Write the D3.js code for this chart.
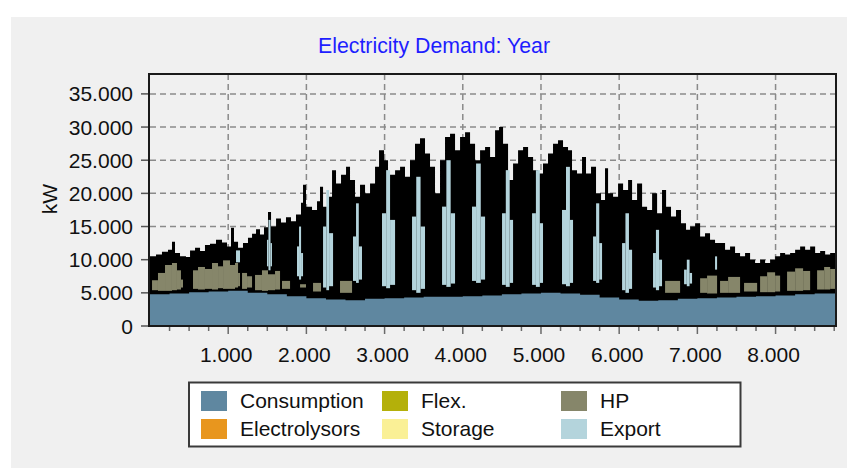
<!DOCTYPE html>
<html><head><meta charset="utf-8">
<script src="https://cdn.jsdelivr.net/npm/d3@7"></script>
<style>
html,body{margin:0;padding:0;background:#fff;}
svg{display:block;}
text{font-family:"Liberation Sans",Arial,sans-serif;}
</style></head><body>
<svg id="chart" width="847" height="468"></svg>
<script>
// ---------- DATA ----------
const chartTitle = "Electricity Demand: Year";
const yAxisLabel = "kW";
const xTickValues = [1000,2000,3000,4000,5000,6000,7000,8000];
const xMinorTicks = d3.range(250, 8760, 250);
const yTickValues = [0,5000,10000,15000,20000,25000,30000,35000];

const seriesNames  = ["Consumption","Electrolysors","Flex.","Storage","HP","Export"];
const seriesColors = ["#5f87a0","#e8961e","#b4b00a","#faf096","#86866a","#b4d4dc"];

// consumption (hour, kW)
const consHours  = [0,250,500,750,1000,1250,1500,1750,2000,2250,2500,2750,3000,3250,3500,3750,4000,4250,4500,4750,5000,5250,5500,5750,6000,6250,6500,6750,7000,7250,7500,7750,8000,8250,8500,8760];
const consValues = [4800,4900,5100,5200,5300,5000,4800,4500,4200,4000,3900,4100,4200,4300,4400,4400,4500,4600,4800,4900,5000,4900,4700,4300,4000,3800,3900,4100,4200,4300,4400,4500,4600,4800,4900,5000];

// upper envelope of the total load (hour, kW)
const topHours = [0,77,153,230,281,320,384,460,512,576,640,703,767,844,921,985,1036,1074,1126,1189,1253,1305,1356,1407,1458,1509,1548,1612,1675,1739,1803,1867,1931,1957,1995,2072,2136,2174,2213,2277,2328,2379,2443,2507,2558,2622,2686,2750,2814,2878,2929,2993,3044,3134,3198,3261,3325,3389,3453,3517,3581,3645,3709,3773,3837,3901,3965,4029,4093,4157,4221,4285,4349,4413,4464,4515,4579,4643,4707,4771,4835,4899,4963,5026,5090,5154,5218,5282,5346,5397,5461,5525,5576,5640,5704,5768,5819,5858,5922,5986,6050,6114,6165,6229,6293,6357,6421,6485,6548,6600,6663,6727,6791,6855,6907,6971,7035,7098,7162,7226,7290,7354,7418,7482,7546,7610,7674,7738,7802,7866,7930,7994,8058,8122,8186,8250,8314,8378,8442,8506,8570,8634,8698,8760];
const topValues = [10500,10800,11200,11500,12700,11000,10500,10400,11400,11800,11300,12200,12400,13000,12600,12000,14800,12700,11800,12500,13300,13900,14600,13800,14900,17200,15000,16200,15600,16400,15800,16800,18600,21300,18000,17500,18800,21000,18000,19500,23500,21500,22800,24000,22000,19500,21300,20000,21500,24000,26500,25000,22800,23500,24000,22500,25000,27500,28300,26000,24000,20000,25000,28500,29000,26500,28500,29200,27500,25000,26500,27000,25500,29500,30000,27500,22000,24500,26500,27000,25500,23500,23000,24500,26000,27500,28000,27000,26500,23500,23000,25500,23000,24000,20000,19000,23800,20000,19500,21500,20500,22000,19000,21500,18000,17500,20000,17000,20500,18000,16500,17500,15500,14500,15000,15500,13500,14000,13000,12500,12500,11500,12000,11000,10500,11000,10000,9500,10000,9500,10000,10500,11000,10800,11000,11500,12000,11500,12000,11000,11300,10800,11000,10500];

// heat pump blocks (start hour, end hour, low kW, high kW)
const hpStart = [26,102,192,281,345,396,550,614,703,793,870,934,1023,1087,1126,1177,1241,1343,1432,1509,1599,1688,1919,2085,2430,6587,7035,7124,7290,7393,7597,7802,7892,7994,8147,8250,8352,8531,8621,8698];
const hpEnd   = [102,192,281,345,396,422,614,703,793,870,934,1023,1087,1126,1151,1241,1305,1432,1509,1599,1663,1791,1995,2187,2584,6779,7124,7252,7393,7546,7764,7892,7994,8058,8250,8352,8442,8621,8698,8760];
const hpLow   = [5400,5300,5300,5400,5500,5800,5600,5500,5600,5500,5700,5600,5600,5800,6000,5600,5800,5400,5300,5400,5500,5600,5800,5200,5000,5000,5000,4900,5000,5000,5200,5100,5100,5200,5300,5300,5400,5500,5500,5600];
const hpHigh  = [6900,8000,9200,9500,8400,7000,8400,8900,8600,9500,9000,9900,9200,9500,8000,8000,7500,7700,8400,7800,8300,6800,6300,6500,6800,6800,7200,7600,6800,7400,6500,7500,8100,7600,8200,8700,8300,8400,8900,8600];

// export blocks (start hour, end hour, low kW, high kW)
const expStart = [1100,1496,1515,1541,1880,1906,1932,2213,2255,2290,2596,2635,2670,2967,3020,3070,3351,3405,3460,3735,3790,3845,4118,4170,4230,4502,4550,4600,4886,4935,4985,5269,5320,5370,5666,5705,5745,6037,6080,6125,6433,6470,6510,6830,6865,6900,7226];
const expEnd   = [1151,1515,1541,1560,1906,1932,1957,2255,2290,2341,2635,2670,2711,3020,3070,3134,3405,3460,3517,3790,3845,3901,4170,4230,4285,4550,4600,4643,4935,4985,5026,5320,5370,5410,5705,5745,5781,6080,6125,6165,6470,6510,6548,6865,6900,6932,7252];
const expLow   = [9600,9000,8400,9000,7500,7000,7500,5800,5400,6000,6800,6500,7000,6000,5700,6200,5400,5000,5600,6200,5900,6400,6800,6500,7000,6200,5900,6500,6200,5900,6500,6300,6000,6500,6800,6500,7000,5400,5000,5600,5800,5400,6000,6300,6000,6400,8500];
const expHigh  = [11400,13000,16000,12500,12000,15000,11000,15000,20500,14000,13500,18500,12000,17000,23500,16000,16500,22500,15000,18000,25000,17000,18000,24500,16500,17000,23500,16000,17000,23500,15500,17500,24000,16000,13500,18500,12500,12500,17000,11500,11000,14500,10000,8500,10000,8000,10500];

// ---------- LAYOUT ----------
const svg = d3.select("#chart");
const W = 847, H = 468;
const plot = {left:150, right:835, top:74, bottom:326};

svg.append("rect").attr("x",0).attr("y",0).attr("width",W).attr("height",H).attr("fill","#ffffff");
svg.append("rect").attr("x",11).attr("y",17).attr("width",W-11).attr("height",H-17).attr("fill","#f0f0f0");

const x = d3.scaleLinear().domain([0,8760]).range([plot.left, plot.right]);
const y = d3.scaleLinear().domain([0,38000]).range([plot.bottom, plot.top]);

const fmtLocale = d3.formatLocale({decimal:",", thousands:".", grouping:[3], currency:["",""]});
const fmt = fmtLocale.format(",");

// title
svg.append("text").attr("x",434).attr("y",53).attr("text-anchor","middle")
  .attr("fill","#1e1eff").attr("font-size","21.3px").text(chartTitle);

// grid
const grid = svg.append("g").attr("stroke","#8a8a8a").attr("stroke-width",1.5).attr("stroke-dasharray","6,4");
grid.selectAll("line.v").data(xTickValues).join("line")
  .attr("x1",d=>x(d)).attr("x2",d=>x(d)).attr("y1",plot.top).attr("y2",plot.bottom);
grid.selectAll("line.h").data(yTickValues.filter(d=>d>0)).join("line")
  .attr("x1",plot.left).attr("x2",plot.right).attr("y1",d=>y(d)).attr("y2",d=>y(d));

// clip
svg.append("clipPath").attr("id","clip").append("rect")
  .attr("x",plot.left).attr("y",plot.top).attr("width",plot.right-plot.left).attr("height",plot.bottom-plot.top);
const data = svg.append("g").attr("clip-path","url(#clip)");

// total load envelope (black)
const topData = topHours.map((h,i)=>({h, v:topValues[i]}));
data.append("path").datum(topData)
  .attr("fill","#000")
  .attr("d", d3.area().curve(d3.curveStepAfter).x(d=>x(d.h)).y0(y(0)).y1(d=>y(d.v)));

// consumption
const consData = consHours.map((h,i)=>({h, v:consValues[i]}));
data.append("path").datum(consData)
  .attr("fill",seriesColors[0])
  .attr("d", d3.area().curve(d3.curveStepAfter).x(d=>x(d.h)).y0(y(0)).y1(d=>y(d.v)));

// HP
const hpData = hpStart.map((s,i)=>({s, e:hpEnd[i], lo:hpLow[i], hi:hpHigh[i]}));
data.selectAll("rect.hp").data(hpData).join("rect").attr("class","hp")
  .attr("x",d=>x(d.s)).attr("width",d=>x(d.e)-x(d.s))
  .attr("y",d=>y(d.hi)).attr("height",d=>y(d.lo)-y(d.hi))
  .attr("fill",seriesColors[4]);

// Export
const expData = expStart.map((s,i)=>({s, e:expEnd[i], lo:expLow[i], hi:expHigh[i]}));
data.selectAll("rect.exp").data(expData).join("rect").attr("class","exp")
  .attr("x",d=>x(d.s)).attr("width",d=>x(d.e)-x(d.s))
  .attr("y",d=>y(d.hi)).attr("height",d=>y(d.lo)-y(d.hi))
  .attr("fill",seriesColors[5]);

// frame
svg.append("rect").attr("x",plot.left-1).attr("y",plot.top).attr("width",plot.right-plot.left+2).attr("height",plot.bottom-plot.top)
  .attr("fill","none").attr("stroke","#1a1a1a").attr("stroke-width",2);

// x ticks
const xt = svg.append("g").attr("stroke","#6a6a6a").attr("stroke-width",1.5);
xt.selectAll("line.minor").data(xMinorTicks).join("line")
  .attr("x1",d=>x(d)).attr("x2",d=>x(d)).attr("y1",plot.bottom+1).attr("y2",d=> d%1000===0 ? plot.bottom+8 : plot.bottom+5);
svg.append("g").selectAll("text").data(xTickValues).join("text")
  .attr("x",d=>x(d)-2).attr("y",361.5).attr("text-anchor","middle")
  .attr("font-size","21px").attr("fill","#111").text(d=>fmt(d));

// y ticks
const yt = svg.append("g").attr("stroke","#555").attr("stroke-width",1.5);
yt.selectAll("line").data(yTickValues).join("line")
  .attr("x1",141).attr("x2",plot.left-2).attr("y1",d=>y(d)).attr("y2",d=>y(d));
svg.append("g").selectAll("text").data(yTickValues).join("text")
  .attr("x",133).attr("y",d=>y(d)+7.5).attr("text-anchor","end")
  .attr("font-size","21px").attr("fill","#111").text(d=>fmt(d));

svg.append("text").attr("transform","translate(57,199) rotate(-90)").attr("text-anchor","middle")
  .attr("font-size","21px").attr("fill","#111").text(yAxisLabel);

// legend
const lg = svg.append("g");
lg.append("rect").attr("x",189).attr("y",382.5).attr("width",551.5).attr("height",64)
  .attr("fill","#fff").attr("stroke","#3a3a3a").attr("stroke-width",2);
const colX = [201,382,561];
const rowY = [391,419];
seriesNames.forEach((name,i)=>{
  const c = Math.floor(i/2), r = i%2;
  lg.append("rect").attr("x",colX[c]).attr("y",rowY[r]).attr("width",26).attr("height",20).attr("fill",seriesColors[i]);
  lg.append("text").attr("x",colX[c]+39).attr("y",rowY[r]+17).attr("font-size","21px").attr("fill","#111").text(name);
});
</script>
</body></html>
